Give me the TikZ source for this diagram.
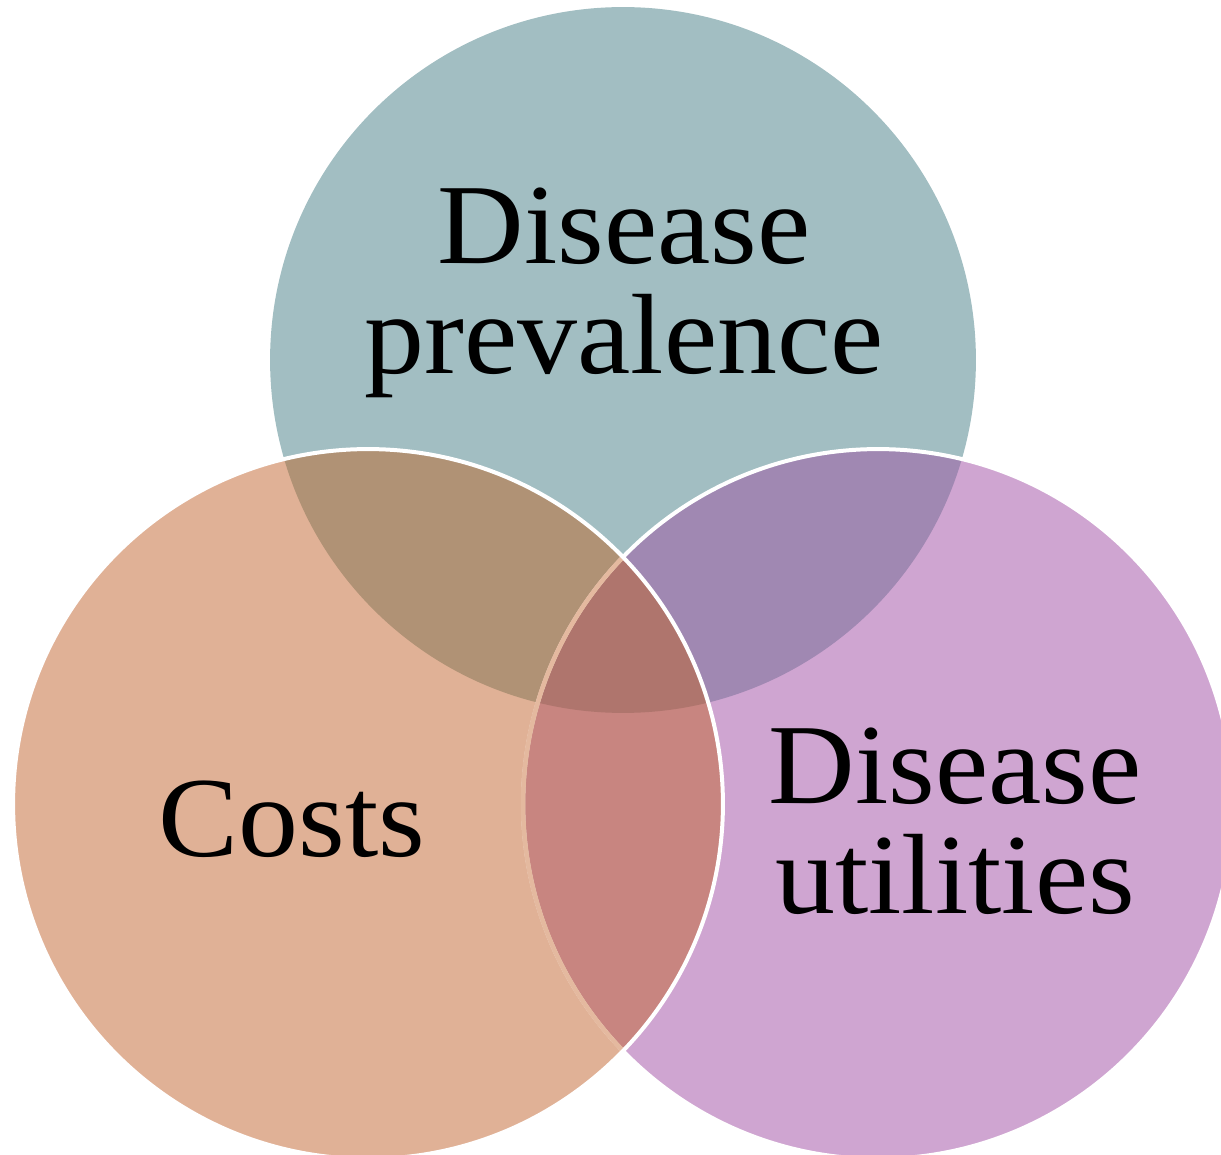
\documentclass[tikz,border=0pt]{standalone}
\usepackage{fontspec}
\setmainfont[FakeStretch=1.05]{Liberation Serif}
\definecolor{cT}{HTML}{A2BEC2}
\definecolor{cL}{HTML}{E0B196}
\definecolor{cR}{HTML}{CFA5D1}
\definecolor{cTL}{HTML}{B09275}
\definecolor{cTR}{HTML}{A088B2}
\definecolor{cLR}{HTML}{C88580}
\definecolor{cTLR}{HTML}{AF756D}
\definecolor{cEdge}{HTML}{E4B99F}
\begin{document}
\begin{tikzpicture}[x=0.02cm,y=-0.02cm,
  lbl/.style={anchor=base,inner sep=0pt,font=\fontsize{65}{70}\selectfont},
  wline/.style={draw=white,line width=0.08cm}]
\useasboundingbox (0,0) rectangle (1221,1155);
\clip (0,0) rectangle (1221,1155);
\coordinate (T) at (623,360);
\coordinate (L) at (368,804);
\coordinate (R) at (878,804);
% base fills
\fill[cT] (T) circle[radius=7.06cm];
\fill[cR] (R) circle[radius=7.1cm];
\fill[cL] (L) circle[radius=7.1cm];
% pairwise overlaps with the top circle
\begin{scope}
  \clip (T) circle[radius=7.06cm];
  \fill[cTL] (L) circle[radius=7.1cm];
  \fill[cTR] (R) circle[radius=7.1cm];
\end{scope}
% left-right overlap and triple overlap
\begin{scope}
  \clip (L) circle[radius=7.1cm];
  \fill[cLR] (R) circle[radius=7.1cm];
  \clip (R) circle[radius=7.1cm];
  \fill[cTLR] (T) circle[radius=7.06cm];
\end{scope}
% outlines
\draw[wline] (R) circle[radius=7.1cm];
\begin{scope}
  \clip (L) circle[radius=7.1cm];
  \draw[draw=cEdge,line width=0.09cm] (R) circle[radius=7.1cm];
\end{scope}
\draw[wline] (L) circle[radius=7.1cm];
% labels
\node[lbl] (t1) at (624,264) {Disease};
\node[lbl] (t2) at (624,374) {prevalence};
\node[lbl] (c1) at (292,856) {Costs};
\node[lbl] (r1) at (955,803) {Disease};
\node[lbl] (r2) at (955,913) {utilities};
\end{tikzpicture}
\end{document}
